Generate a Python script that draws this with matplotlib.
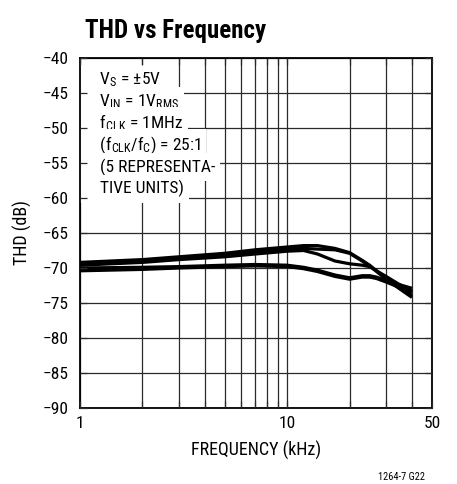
import matplotlib
matplotlib.use('Agg')
import matplotlib.pyplot as plt
from matplotlib.ticker import FixedLocator, NullFormatter

plt.rcParams['font.family'] = ['Roboto Condensed', 'DejaVu Sans']
plt.rcParams['mathtext.fontset'] = 'custom'
plt.rcParams['mathtext.rm'] = 'Roboto Condensed'
plt.rcParams['mathtext.default'] = 'regular'

# frequencies in kHz and THD in dB for 5 representative units
freq = [1, 2, 3, 5, 7, 10, 12, 14, 17, 20, 23, 25, 27, 30, 35, 40]
unit1 = [-69.2, -68.8, -68.4, -67.9, -67.4, -67.0, -66.8, -66.8, -67.2, -67.8, -68.9, -69.6, -70.4, -71.5, -72.9, -74.0]
unit2 = [-69.4, -69.0, -68.6, -68.1, -67.7, -67.3, -67.2, -67.3, -67.4, -67.9, -69.0, -69.7, -70.5, -71.6, -73.0, -74.2]
unit3 = [-69.6, -69.2, -68.8, -68.4, -68.0, -67.6, -67.5, -68.0, -69.0, -69.4, -69.6, -69.8, -70.4, -71.2, -72.4, -73.3]
unit4 = [-70.0, -69.9, -69.8, -69.6, -69.5, -69.6, -69.9, -70.3, -71.0, -71.4, -71.1, -71.1, -71.3, -71.8, -72.4, -72.9]
unit5 = [-70.4, -70.2, -70.0, -69.8, -69.7, -69.8, -70.1, -70.5, -71.2, -71.6, -71.3, -71.3, -71.5, -72.0, -72.8, -73.6]
units = [unit1, unit2, unit3, unit4, unit5]

notes = [r'V$_{S}$ = ±5V',
         r'V$_{IN}$ = 1V$_{RMS}$',
         r'f$_{CLK}$ = 1MHz',
         r'(f$_{CLK}$/f$_{C}$) = 25:1',
         '(5 REPRESENTA-',
         'TIVE UNITS)']

xmajor = [1, 10, 50]
xminor = [2, 3, 4, 5, 6, 7, 8, 9, 20, 30, 40]
yticks = list(range(-90, -39, 5))

fig = plt.figure(figsize=(4.57, 4.84), dpi=100)
rect = [80/457, 76/484, 352/457, 350/484]
ax = fig.add_axes(rect)
ax.set_axisbelow(True)

for u in units:
    ax.plot(freq, u, color='black', lw=2.3, zorder=2, solid_capstyle='butt')

ax.set_xscale('log')
ax.set_xlim(1, 50)
ax.set_ylim(-90, -40)
ax.xaxis.set_major_locator(FixedLocator(xmajor))
ax.xaxis.set_minor_locator(FixedLocator(xminor))
ax.xaxis.set_minor_formatter(NullFormatter())
ax.set_xticklabels([str(v) for v in xmajor])
ax.set_yticks(yticks)
ax.grid(True, which='both', color='#2a2a2a', lw=0.9)
ax.tick_params(which='both', length=0, labelsize=12.5, pad=6)
ax.tick_params(axis='y', pad=8)
for s in ax.spines.values():
    s.set_linewidth(1.3)
    s.set_zorder(3)

for i, t in enumerate(notes):
    ax.text(0.0, 0.925 - i*0.0625, '     ' + t, transform=ax.transAxes, fontsize=12.5,
            va='baseline', ha='left', zorder=1.8,
            bbox=dict(boxstyle='square,pad=0.3', fc='white', ec='none'))

# overlay axes only for inward ticks drawn on top of the note box
ax2 = fig.add_axes(rect, sharex=ax, sharey=ax)
ax2.patch.set_visible(False)
ax2.tick_params(which='both', direction='in', length=5, width=0.9, color='#2a2a2a',
                labelbottom=False, labelleft=False, top=True, right=True)
for s in ax2.spines.values():
    s.set_visible(False)

ax.set_xlabel('FREQUENCY (kHz)', fontsize=13, labelpad=7)
ax.set_ylabel('THD (dB)', fontsize=13, labelpad=8)
fig.text(0.186, 0.935, 'THD vs Frequency', fontsize=18, fontweight='bold', va='center')
fig.text(0.93, 0.015, '1264-7 G22', fontsize=7.5, ha='right', va='center')

fig.savefig('out.png', dpi=100)
